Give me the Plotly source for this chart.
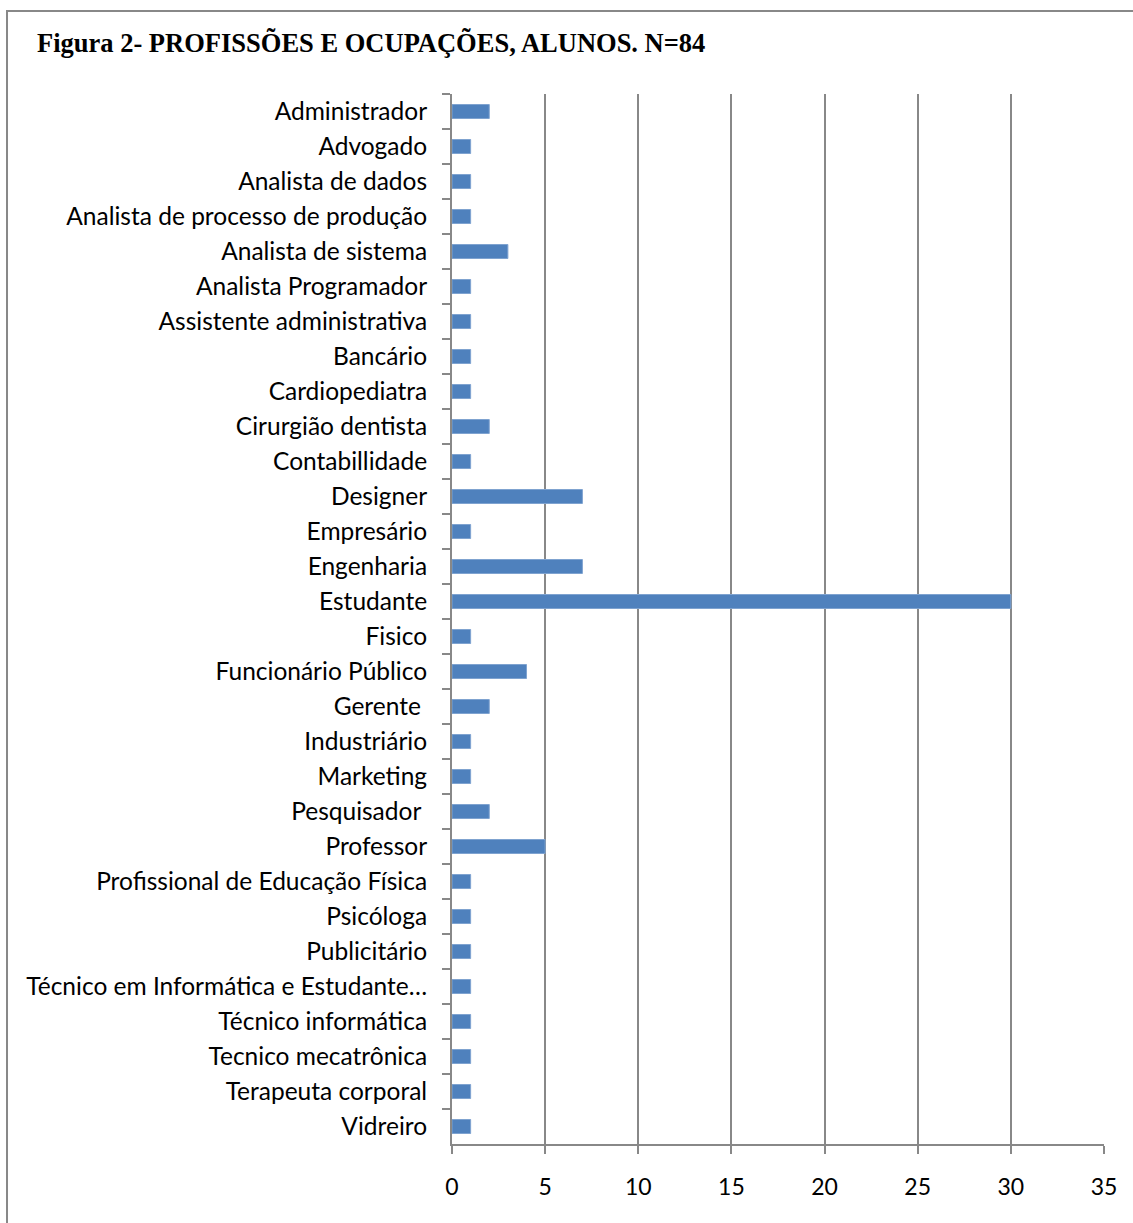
import plotly.graph_objects as go

categories = [
    "Administrador", "Advogado", "Analista de dados", "Analista de processo de produção",
    "Analista de sistema", "Analista Programador", "Assistente administrativa", "Bancário",
    "Cardiopediatra", "Cirurgião dentista", "Contabillidade", "Designer", "Empresário",
    "Engenharia", "Estudante", "Fisico", "Funcionário Público", "Gerente ", "Industriário",
    "Marketing", "Pesquisador ", "Professor", "Profissional de Educação Física", "Psicóloga",
    "Publicitário", "Técnico em Informática e Estudante…", "Técnico informática",
    "Tecnico mecatrônica", "Terapeuta corporal", "Vidreiro",
]
values = [2, 1, 1, 1, 3, 1, 1, 1, 1, 2, 1, 7, 1, 7, 30, 1, 4, 2, 1, 1, 2, 5, 1, 1, 1, 1, 1, 1, 1, 1]
x_ticks = [0, 5, 10, 15, 20, 25, 30, 35]
title_text = "Figura 2- PROFISSÕES E OCUPAÇÕES, ALUNOS. N=84"

GRAY = "#888888"
Y_FONT = dict(family="Lato, Open Sans, sans-serif", size=24.5, color="#000000")
X_FONT = dict(family="Lato, Open Sans, sans-serif", size=23, color="#000000")

fig = go.Figure(go.Bar(
    x=values, y=categories, orientation="h",
    marker=dict(color="#4f81bd", line=dict(color="#7fa3d0", width=1)),
))

fig.update_layout(
    width=1133, height=1223,
    margin=dict(l=452, r=29, t=94, b=79),
    paper_bgcolor="white", plot_bgcolor="white",
    showlegend=False, bargap=0.6,
    xaxis=dict(
        range=[0, 35], tickvals=x_ticks, ticktext=[str(v) for v in x_ticks],
        showgrid=True, gridcolor=GRAY, gridwidth=2,
        showline=True, linecolor=GRAY, linewidth=2,
        ticks="outside", ticklen=8, tickcolor=GRAY, tickwidth=2,
        tickfont=X_FONT, ticklabelstandoff=13, zeroline=False,
    ),
    yaxis=dict(
        autorange="reversed", type="category",
        showline=True, linecolor=GRAY, linewidth=2,
        ticks="outside", ticklen=8, tickcolor=GRAY, tickwidth=2,
        tickson="boundaries", tickfont=Y_FONT, ticklabelstandoff=18,
        showgrid=False,
    ),
    shapes=[dict(
        type="rect", xref="paper", yref="paper",
        x0=-0.6825, x1=1.06, y0=-0.2, y1=(1144 - 11) / 1050,
        line=dict(color=GRAY, width=2), fillcolor="rgba(0,0,0,0)", layer="below",
    )],
    annotations=[dict(
        text="<b>" + title_text + "</b>", xref="paper", yref="paper",
        x=(35 - 452) / 652, y=(1144 - 43) / 1050, xanchor="left", yanchor="middle",
        showarrow=False, font=dict(family="Liberation Serif, Times New Roman, serif", size=26.5, color="#000000"),
    )],
)

fig.write_html("out.html")
